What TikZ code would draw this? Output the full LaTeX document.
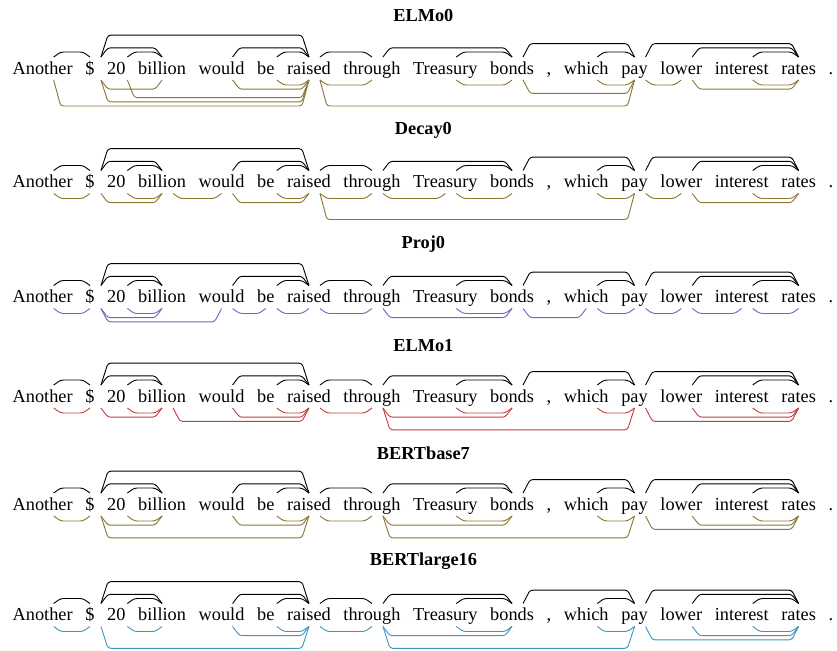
\documentclass[tikz,border=0pt]{standalone}
\usepackage{fontspec}
\setmainfont{Liberation Serif}
\usepackage{xcolor}
\usepackage{tikz}
\usetikzlibrary{calc, positioning}

\definecolor{goldarc}{RGB}{140,118,52}
\definecolor{projarc}{RGB}{112,102,190}
\definecolor{elmoarc}{RGB}{200,60,60}
\definecolor{largearc}{RGB}{60,150,190}

% arc above the words (gold tree): row, from, to
\newcommand{\arcabove}[3]{%
  \draw[treearc] ($(w#1-#2.base)+(11,-17)$)
    -- ($(w#1-#2.base)+(18,{-17.8-4.2*(#3-#2)})$)
    -- ($(w#1-#3.base)+(-7,{-17.8-4.2*(#3-#2)})$)
    -- ($(w#1-#3.base)+(0,-17)$);}

% arc below the words (predicted tree): row, from, to, colour
\newcommand{\arcbelow}[4]{%
  \draw[predarc, #4] ($(w#1-#2.base)+(11,6)$)
    -- ($(w#1-#2.base)+(18,{6.8+4.2*(#3-#2)})$)
    -- ($(w#1-#3.base)+(-7,{6.8+4.2*(#3-#2)})$)
    -- ($(w#1-#3.base)+(0,6)$);}

\begin{document}
\begin{tikzpicture}[x=0.5465pt, y=-0.5465pt,
    word/.style={inner sep=0pt, outer sep=0pt},
    rowtitle/.style={inner sep=0pt, font=\bfseries, anchor=base},
    treearc/.style={black, line width=0.5pt, rounded corners=1.5pt},
    predarc/.style={line width=0.5pt, rounded corners=1.5pt}]

    \useasboundingbox (0,0) rectangle (837,651);

    % =================================================================
    % THE SIX ROWS OF WORDS AND THEIR TITLES
    % =================================================================
    \foreach \r/\yb/\yt/\name in {1/74/21.5/ELMo0, 2/187.5/134/Decay0,
        3/302.5/248/Proj0, 4/402/351.5/ELMo1, 5/510/459/BERTbase7,
        6/620.5/565/BERTlarge16} {
      \node[rowtitle] (t\r) at (423.4,\yt) {\name};
      \node[word, anchor=base west] (w\r-0) at (12.7,\yb) {Another};
      \foreach \t [count=\i from 1, remember=\i as \p (initially 0)] in
          {\$, 20, billion, would, be, raised, through, Treasury, bonds,
           {,}, which, pay, lower, interest, rates, .} {
        \node[word, base right=6.94pt of w\r-\p] (w\r-\i) {\t};
      }
    }

    % =================================================================
    % GOLD TREE ABOVE EVERY ROW (BLACK)
    % =================================================================
    \foreach \r in {1,...,6} {
      \foreach \a/\b in {0/1, 1/3, 2/3, 1/6, 4/6, 5/6, 6/7, 7/9, 8/9,
          9/12, 11/12, 12/15, 13/15, 14/15} {
        \arcabove{\r}{\a}{\b}
      }
    }

    % =================================================================
    % PREDICTED TREES BELOW (COLOURED)
    % =================================================================
    % ELMo0
    \foreach \a/\b in {0/6, 1/3, 1/6, 2/6, 4/6, 5/6, 6/7, 6/12, 8/9,
        9/12, 11/12, 12/13, 13/15, 14/15} {\arcbelow{1}{\a}{\b}{goldarc}}
    % Decay0
    \foreach \a/\b in {0/1, 1/3, 2/3, 3/4, 4/6, 5/6, 6/7, 6/12, 7/8,
        8/9, 11/12, 12/13, 13/15, 14/15} {\arcbelow{2}{\a}{\b}{goldarc}}
    % Proj0
    \foreach \a/\b in {0/1, 1/3, 1/4, 2/3, 4/5, 5/6, 6/7, 7/9, 8/9,
        9/11, 11/12, 12/13, 13/14, 14/15} {\arcbelow{3}{\a}{\b}{projarc}}
    % ELMo1
    \foreach \a/\b in {0/1, 1/3, 2/3, 3/6, 4/6, 5/6, 6/7, 7/9, 7/12,
        8/9, 11/12, 12/15, 13/15, 14/15} {\arcbelow{4}{\a}{\b}{elmoarc}}
    % BERTbase7
    \foreach \a/\b in {0/1, 1/3, 1/6, 2/3, 4/6, 5/6, 6/7, 7/9, 7/12,
        8/9, 11/12, 12/15, 13/15, 14/15} {\arcbelow{5}{\a}{\b}{goldarc}}
    % BERTlarge16
    \foreach \a/\b in {0/1, 1/6, 2/3, 4/6, 5/6, 6/7, 7/9, 7/12, 8/9,
        11/12, 12/15, 13/15, 14/15} {\arcbelow{6}{\a}{\b}{largearc}}

\end{tikzpicture}
\end{document}
